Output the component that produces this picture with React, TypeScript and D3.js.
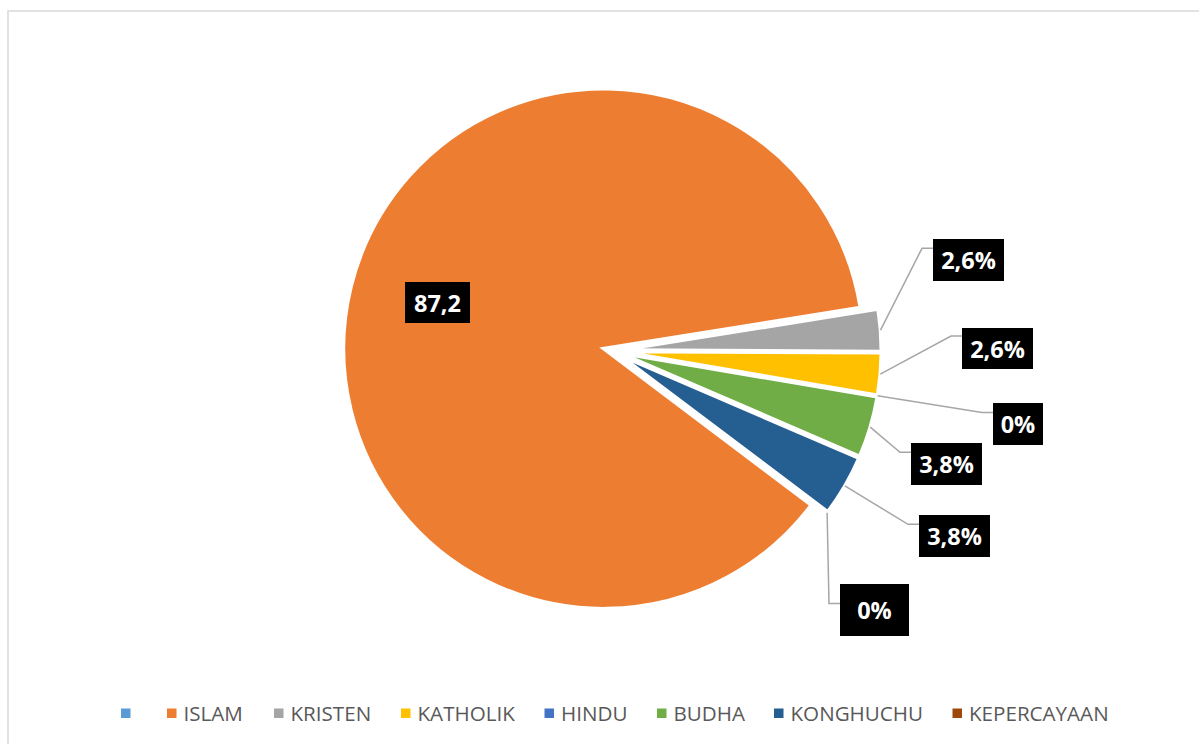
import React from "react";
import * as d3 from "d3";

// ---- data ----
const categories = ["", "ISLAM", "KRISTEN", "KATHOLIK", "HINDU", "BUDHA", "KONGHUCHU", "KEPERCAYAAN"];
const values = [0, 87.2, 2.6, 2.6, 0, 3.8, 3.8, 0];
const labels = ["", "87,2", "2,6%", "2,6%", "0%", "3,8%", "3,8%", "0%"];
const colors = ["#5b9bd5", "#ed7d31", "#a5a5a5", "#ffc000", "#4472c4", "#70ad47", "#255e91", "#9e480e"];

// ---- layout ----
const W = 1199;
const H = 744;
const CX = 612.3;
const CY = 350.8;
const R = 260;
const EXPLODE = 9;
const START_DEG = 127;
// label boxes: [left, top, width, height, leaderAttachY] per category index
const labelBoxes: (number[] | null)[] = [
  null,
  [405, 282, 65, 41, -1],
  [933, 239, 71, 42, 248.3],
  [962, 328, 71, 41, 336],
  [993, 403, 50, 42, 412.5],
  [911, 443, 71, 42, 452.3],
  [919, 515, 71, 42, 524.3],
  [840, 584, 69, 52, 603.5],
];
const legendX = [121, 167, 274, 401, 544.5, 657, 774, 952.5];

export default function App() {
  const pie = d3
    .pie<number>()
    .sort(null)
    .value((d) => d)
    .startAngle((START_DEG * Math.PI) / 180)
    .endAngle((START_DEG * Math.PI) / 180 + 2 * Math.PI);
  const arcs = pie(values);
  const arcGen = d3.arc<d3.PieArcDatum<number>>().innerRadius(0).outerRadius(R);

  const dir = (a: number) => [Math.sin(a), -Math.cos(a)];

  return (
    <svg
      width={W}
      height={H}
      style={{ position: "fixed", left: 0, top: 0, background: "#fff" }}
    >
      <rect x={8} y={11} width={W + 10} height={H + 10} fill="#fff" stroke="#d9d9d9" strokeWidth={1.5} />
      {arcs.map((a, i) => {
        if (a.value === 0) return null;
        const mid = (a.startAngle + a.endAngle) / 2;
        const [dx, dy] = dir(mid);
        return (
          <path
            key={i}
            d={arcGen(a) || ""}
            transform={`translate(${CX + dx * EXPLODE},${CY + dy * EXPLODE})`}
            fill={colors[i]}
            stroke="#fff"
            strokeWidth={3.5}
            strokeLinejoin="miter"
          />
        );
      })}
      {arcs.map((a, i) => {
        const box = labelBoxes[i];
        if (!box) return null;
        const [bx, by, bw, bh, ay] = box;
        const mid = (a.startAngle + a.endAngle) / 2;
        const [dx, dy] = dir(mid);
        const sx = CX + dx * (EXPLODE + R);
        const sy = CY + dy * (EXPLODE + R);
        return (
          <g key={"l" + i}>
            {ay >= 0 && (
              <polyline
                points={`${sx},${sy} ${bx - 11},${ay} ${bx},${ay}`}
                fill="none"
                stroke="#a6a6a6"
                strokeWidth={1.5}
              />
            )}
            <rect x={bx} y={by} width={bw} height={bh} fill="#000" />
            <text
              x={bx + bw / 2}
              y={by + bh / 2 + 9.3}
              textAnchor="middle"
              fill="#fff"
              fontFamily="'Open Sans', sans-serif"
              fontWeight="bold"
              fontSize={23.5}
            >
              {labels[i]}
            </text>
          </g>
        );
      })}
      {categories.map((c, i) => (
        <g key={"lg" + i}>
          <rect x={legendX[i]} y={708.5} width={9.5} height={9.5} fill={colors[i]} />
          <text
            x={legendX[i] + 16.5}
            y={720.8}
            fill="#595959"
            fontFamily="'Open Sans', sans-serif"
            fontSize={20.6}
          >
            {c}
          </text>
        </g>
      ))}
    </svg>
  );
}
